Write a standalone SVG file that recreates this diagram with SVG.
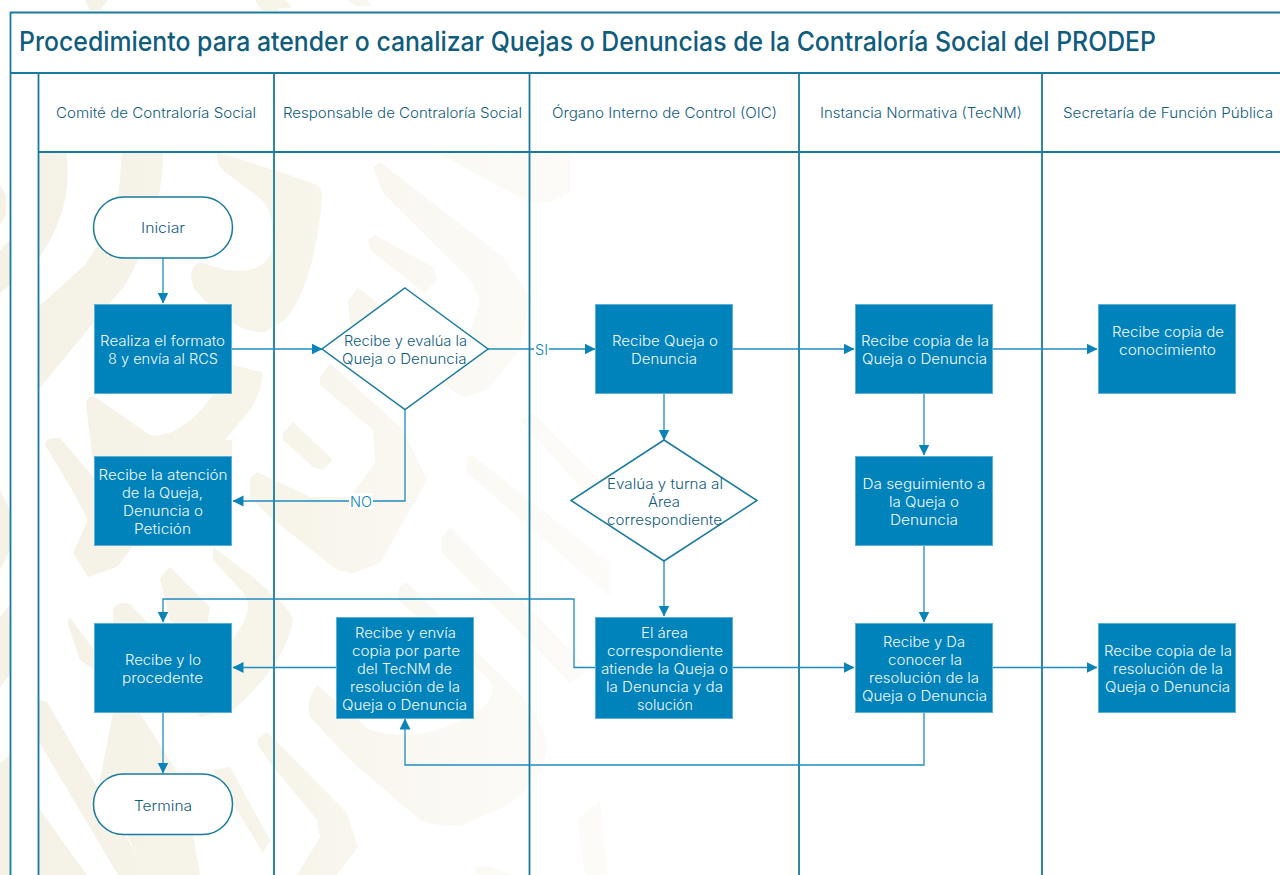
<svg xmlns="http://www.w3.org/2000/svg" width="1280" height="875" viewBox="0 0 1280 875">
<style>
text{font-family:"Inter","Liberation Sans",sans-serif;font-size:14px;font-weight:300;transform:translateY(.5px)}
.lane{stroke:#1a7a9e;stroke-width:1.800;fill:none}
.c{stroke:#1f8cc0;stroke-width:1.300;fill:none;marker-end:url(#a)}
.box{fill:#0082ba;stroke:#5cb0d6;stroke-width:1}
.t{fill:#f2fafd}
.d{fill:#0f5c7c}
.term{fill:#fff;stroke:#1a7a9e;stroke-width:1.500}
.dia{fill:#fff;stroke:#1a7a9e;stroke-width:1.500}
.lab{fill:#0a83b9}
.title{font-size:27px;font-weight:450;fill:#0f5c7c}
</style>
<defs>
<marker id="a" markerUnits="userSpaceOnUse" markerWidth="11" markerHeight="12" refX="10.500" refY="5.500" orient="auto"><path d="M0 0L11 5.500L0 11Z" fill="#0a83b9"/></marker>
<linearGradient id="w" gradientUnits="userSpaceOnUse" x1="0" y1="0" x2="760" y2="0"><stop offset="0" stop-color="#f5f1e6"/><stop offset=".38" stop-color="#f7f4ea"/><stop offset=".6" stop-color="#fbf9f4"/><stop offset="1" stop-color="#fefefc"/></linearGradient>
</defs>
<rect width="1280" height="875" fill="#fff"/>
<g id="watermark" fill="url(#w)">
<path d="M85 0H108L100 10H90ZM255 0H276L280 11H262ZM265 0H286L292 8H272ZM347 0H367L372 6H355Z"/>
<path d="M0 185L6 195L6 215L0 225ZM0 250L10 240V285L0 293ZM0 490L10 510V550L0 570ZM0 617L10 605V675L0 687ZM0 763L10 755V875H0Z"/>
<path d="M38 152H66C72 190 62 225 38 260Z"/>
<path d="M122 152H163C162 210 145 250 125 285L38 390V307L85 265L117 215Z"/>
<path d="M217 152L274 170L318 185Q323 190 322 200C318 240 310 290 285 320L265 332Q235 335 195 290Q185 270 200 262L225 270Q265 275 272 250C274 230 272 210 262 200L225 172Q215 162 217 152Z"/>
<path d="M86 405Q86 395 95 397L150 435Q190 440 232 365L262 372Q265 385 250 410L200 470L94 470Z"/>
<path d="M45 445Q45 437 60 438L94 478L150 440H232V456L140 537L117 567L88 577L73 553L88 520L75 495Z"/>
<path d="M213 547L250 575Q293 610 293 620Q285 665 233 710L200 717L170 690L232 640Q255 610 245 595L213 560Z"/>
<path d="M160 578L170 567L210 607L205 640L170 620Z"/>
<path d="M113 610Q118 600 130 604L150 625H113Z"/>
<path d="M68 625Q68 615 72 620L94 650V670L80 660Z"/>
<path d="M38 700Q42 700 47 702L140 860L147 875H118L38 740Z"/>
<path d="M113 713H140L185 785L200 875H147L127 835L100 780Z"/>
<path d="M38 807L87 875H38Z"/>
<path d="M213 770L230 767L270 840L263 853L240 815Z"/>
<path d="M250 478L257 472L310 497H350L375 463L373 430H403L427 480L380 563L353 573L337 570L270 517L250 497Z"/>
<path d="M373 167L380 162L503 257L530 297L520 350L487 390L463 397L410 363L467 343L480 300L470 280L383 193Z"/>
<path d="M368 240L375 235L433 267L437 280L425 293L370 250Z"/>
<path d="M348 300L358 288L400 320L350 325Z"/>
<path d="M320 377L330 363L403 430H373L320 385Z"/>
<path d="M283 433L293 422L333 460L323 470L313 467L283 440Z"/>
<path d="M437 152L520 198Q540 210 570 193V152Z"/>
<path d="M520 420L533 413L610 490V520Z"/>
<path d="M467 457L472 455L610 563V597L467 473Z"/>
<path d="M442 537L450 527L590 670L570 683L442 553Z"/>
<path d="M398 595Q398 583 407 583L523 697Q548 730 547 747Q543 785 503 807L463 825Q440 828 420 820L353 763L310 717Q305 700 317 685L370 730Q420 745 470 715Q500 700 490 680L398 600Z"/>
<path d="M258 738L267 732L347 813L358 847L337 875H297L320 837L317 820L270 763L258 745Z"/>
<path d="M475 867L490 866L512 875H475Z"/>
<path d="M577 820L600 800L608 875H585Z"/>
</g>
<g id="table-white" fill="#fff"><rect x="10" y="12" width="1270" height="140"/><rect x="10" y="12" width="28" height="863"/></g>
<g id="lanes">
<path class="lane" d="M1280 12.500H10.500V875M10 73H1280M38.500 73V875M38 152H1280M274 73V875M529.500 73V875M799 73V875M1042 73V875"/>
</g>
<text class="title" x="19" y="50.500" textLength="1137" lengthAdjust="spacingAndGlyphs">Procedimiento para atender o canalizar Quejas o Denuncias de la Contraloría Social del PRODEP</text>
<g id="headers" class="d">
<text x="56" y="117" textLength="200" lengthAdjust="spacingAndGlyphs">Comité de Contraloría Social</text>
<text x="283" y="117" textLength="239" lengthAdjust="spacingAndGlyphs">Responsable de Contraloría Social</text>
<text x="552" y="117" textLength="225" lengthAdjust="spacingAndGlyphs">Órgano Interno de Control (OIC)</text>
<text x="820" y="117" textLength="202" lengthAdjust="spacingAndGlyphs">Instancia Normativa (TecNM)</text>
<text x="1063" y="117" textLength="210" lengthAdjust="spacingAndGlyphs">Secretaría de Función Pública</text>
</g>
<g id="connectors">
<path class="c" d="M163 258V303"/>
<path class="c" d="M232 349H322"/>
<path class="c" d="M488 349H595"/>
<path class="c" d="M733 349H854"/>
<path class="c" d="M992 349H1097"/>
<path class="c" d="M405 409V501H233"/>
<path class="c" d="M664 393V440"/>
<path class="c" d="M924 393V455"/>
<path class="c" d="M664 561V616"/>
<path class="c" d="M924 545V622"/>
<path class="c" d="M595 667.500H574V599H163V622"/>
<path class="c" d="M336 667.500H233"/>
<path class="c" d="M733 667.500H854"/>
<path class="c" d="M992 667.500H1097"/>
<path class="c" d="M924 712V765H405V719"/>
<path class="c" d="M163 712V773"/>
</g>
<rect x="534" y="341" width="15" height="16" fill="#fff"/>
<rect x="349" y="493" width="24" height="16" fill="#fff"/>
<g id="labels" class="lab">
<text x="535" y="354.500" textLength="13" lengthAdjust="spacingAndGlyphs">SI</text>
<text x="350" y="506.500" textLength="22" lengthAdjust="spacingAndGlyphs">NO</text>
</g>
<g id="iniciar"><rect class="term" x="93.500" y="197" width="139" height="61" rx="30.500"/><text class="d" x="141" y="232" textLength="44" lengthAdjust="spacingAndGlyphs">Iniciar</text></g>
<g id="realiza"><rect class="box" x="94.500" y="304.500" width="137" height="89"/><g class="t"><text x="100" y="345" textLength="125" lengthAdjust="spacingAndGlyphs">Realiza el formato</text><text x="108" y="363" textLength="110" lengthAdjust="spacingAndGlyphs">8 y envía al RCS</text></g></g>
<g id="evalua-rcs"><path class="dia" d="M405 288L488 349L405 409.500L322 349Z"/><g class="d"><text x="344" y="345" textLength="123" lengthAdjust="spacingAndGlyphs">Recibe y evalúa la</text><text x="342" y="363" textLength="124.500" lengthAdjust="spacingAndGlyphs">Queja o Denuncia</text></g></g>
<g id="recibe-queja"><rect class="box" x="595.500" y="304.500" width="137" height="89"/><g class="t"><text x="612" y="345" textLength="106" lengthAdjust="spacingAndGlyphs">Recibe Queja o</text><text x="631" y="363" textLength="66" lengthAdjust="spacingAndGlyphs">Denuncia</text></g></g>
<g id="recibe-copia"><rect class="box" x="855.500" y="304.500" width="137" height="89"/><g class="t"><text x="861" y="345" textLength="128" lengthAdjust="spacingAndGlyphs">Recibe copia de la</text><text x="862" y="363" textLength="125" lengthAdjust="spacingAndGlyphs">Queja o Denuncia</text></g></g>
<g id="copia-conocimiento"><rect class="box" x="1098.500" y="304.500" width="137" height="89"/><g class="t"><text x="1112" y="336" textLength="112" lengthAdjust="spacingAndGlyphs">Recibe copia de</text><text x="1119" y="354.500" textLength="97" lengthAdjust="spacingAndGlyphs">conocimiento</text></g></g>
<g id="recibe-atencion"><rect class="box" x="94.500" y="456.500" width="137" height="89"/><g class="t"><text x="98.500" y="479" textLength="129" lengthAdjust="spacingAndGlyphs">Recibe la atención</text><text x="122" y="497" textLength="81" lengthAdjust="spacingAndGlyphs">de la Queja,</text><text x="123" y="515" textLength="80" lengthAdjust="spacingAndGlyphs">Denuncia o</text><text x="134" y="533" textLength="57" lengthAdjust="spacingAndGlyphs">Petición</text></g></g>
<g id="evalua-oic"><path class="dia" d="M664 440L757 500.500L664 561L571 500.500Z"/><g class="d"><text x="607" y="488" textLength="116" lengthAdjust="spacingAndGlyphs">Evalúa y turna al</text><text x="648" y="506" textLength="32" lengthAdjust="spacingAndGlyphs">Área</text><text x="607" y="524" textLength="115" lengthAdjust="spacingAndGlyphs">correspondiente</text></g></g>
<g id="seguimiento"><rect class="box" x="855.500" y="456.500" width="137" height="89"/><g class="t"><text x="862.500" y="488" textLength="123" lengthAdjust="spacingAndGlyphs">Da seguimiento a</text><text x="889" y="506" textLength="70" lengthAdjust="spacingAndGlyphs">la Queja o</text><text x="890" y="524" textLength="68" lengthAdjust="spacingAndGlyphs">Denuncia</text></g></g>
<g id="procedente"><rect class="box" x="94.500" y="623.500" width="137" height="89"/><g class="t"><text x="125" y="664" textLength="76" lengthAdjust="spacingAndGlyphs">Recibe y lo</text><text x="122" y="682" textLength="81" lengthAdjust="spacingAndGlyphs">procedente</text></g></g>
<g id="recibe-envia"><rect class="box" x="336.500" y="617.500" width="137" height="101"/><g class="t"><text x="355" y="637" textLength="101" lengthAdjust="spacingAndGlyphs">Recibe y envía</text><text x="352" y="655" textLength="108" lengthAdjust="spacingAndGlyphs">copia por parte</text><text x="357" y="673" textLength="95" lengthAdjust="spacingAndGlyphs">del TecNM de</text><text x="350" y="691" textLength="110" lengthAdjust="spacingAndGlyphs">resolución de la</text><text x="342" y="709" textLength="125" lengthAdjust="spacingAndGlyphs">Queja o Denuncia</text></g></g>
<g id="area"><rect class="box" x="595.500" y="617.500" width="137" height="101"/><g class="t"><text x="641" y="637" textLength="47" lengthAdjust="spacingAndGlyphs">El área</text><text x="607" y="655" textLength="116" lengthAdjust="spacingAndGlyphs">correspondiente</text><text x="601" y="673" textLength="127" lengthAdjust="spacingAndGlyphs">atiende la Queja o</text><text x="606" y="691" textLength="117" lengthAdjust="spacingAndGlyphs">la Denuncia y da</text><text x="637" y="709" textLength="56" lengthAdjust="spacingAndGlyphs">solución</text></g></g>
<g id="da-conocer"><rect class="box" x="855.500" y="623.500" width="137" height="89"/><g class="t"><text x="883" y="646" textLength="82" lengthAdjust="spacingAndGlyphs">Recibe y Da</text><text x="888" y="664" textLength="74" lengthAdjust="spacingAndGlyphs">conocer la</text><text x="869" y="682" textLength="110" lengthAdjust="spacingAndGlyphs">resolución de la</text><text x="862" y="700" textLength="125" lengthAdjust="spacingAndGlyphs">Queja o Denuncia</text></g></g>
<g id="copia-resolucion"><rect class="box" x="1098.500" y="623.500" width="137" height="89"/><g class="t"><text x="1104" y="655" textLength="128" lengthAdjust="spacingAndGlyphs">Recibe copia de la</text><text x="1113" y="673" textLength="110" lengthAdjust="spacingAndGlyphs">resolución de la</text><text x="1105" y="691" textLength="125" lengthAdjust="spacingAndGlyphs">Queja o Denuncia</text></g></g>
<g id="termina"><rect class="term" x="93.500" y="774" width="139" height="60.500" rx="30"/><text class="d" x="134" y="810" textLength="58" lengthAdjust="spacingAndGlyphs">Termina</text></g>
</svg>
